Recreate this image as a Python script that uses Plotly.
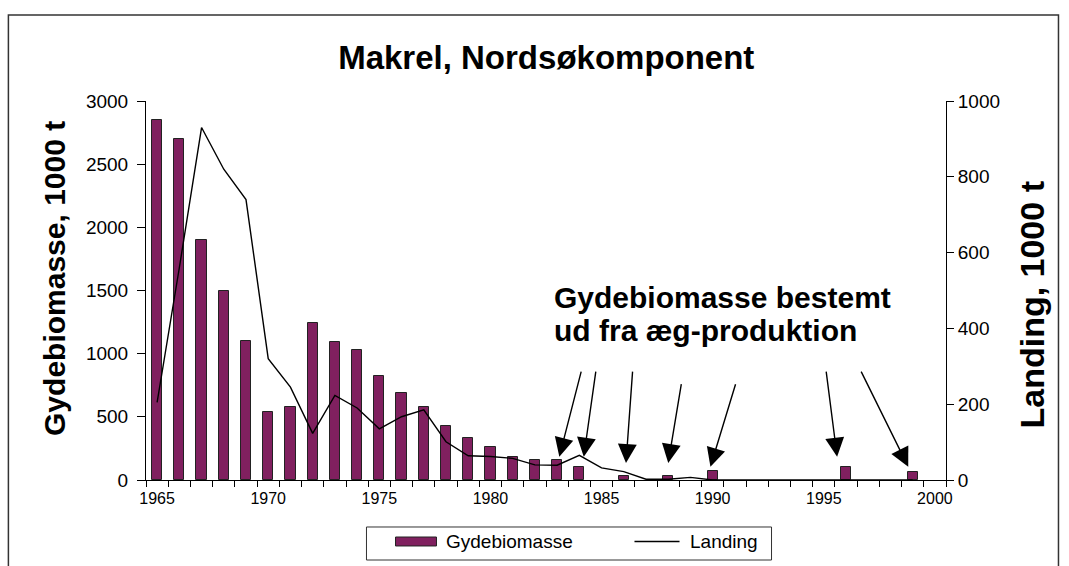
import plotly.graph_objects as go

# ---- data ----
bar_years = [1965, 1966, 1967, 1968, 1969, 1970, 1971, 1972, 1973, 1974, 1975,
             1976, 1977, 1978, 1979, 1980, 1981, 1982, 1983, 1984, 1986, 1988,
             1990, 1996, 1999]
gydebiomasse = [2850, 2700, 1900, 1500, 1100, 540, 580, 1240, 1090, 1030, 820,
                690, 580, 430, 330, 260, 180, 160, 160, 100, 30, 30,
                70, 100, 60]

line_years = list(range(1965, 2000))
landing = [205, 560, 930, 820, 740, 320, 245, 123, 223, 190, 135,
           167, 185, 101, 64, 62, 57, 40, 39, 65, 32, 22, 2, 2, 7,
           0, 0, 0, 0, 0, 0, 0, 0, 0, 0]

x_ticks = [1965, 1970, 1975, 1980, 1985, 1990, 1995, 2000]
y_left_ticks = [0, 500, 1000, 1500, 2000, 2500, 3000]
y_right_ticks = [0, 200, 400, 600, 800, 1000]

series_names = ["Gydebiomasse", "Landing"]

# arrows: (tip_x, tip_y, tail_x, tail_y) in data units of the left axis
arrow_tip_x = [1983.1, 1984.2, 1986.1, 1988.0, 1989.9, 1995.6, 1998.8]
arrow_tip_y = [185, 185, 135, 135, 105, 185, 105]
arrow_tail_x = [1984.1, 1984.75, 1986.4, 1988.6, 1991.05, 1995.1, 1996.65]
arrow_tail_y = [870, 870, 870, 770, 770, 870, 870]

FONT = "Liberation Sans, Arial, sans-serif"
BAR_COLOR = "#80205F"

fig = go.Figure()
fig.add_trace(go.Bar(
    x=bar_years, y=gydebiomasse, name=series_names[0],
    marker=dict(color=BAR_COLOR, line=dict(color="#222222", width=1)),
    width=0.46, yaxis="y", showlegend=False))
fig.add_trace(go.Scatter(
    x=line_years, y=landing, name=series_names[1], mode="lines",
    line=dict(color="black", width=1.4), yaxis="y2", showlegend=False))

annotations = []
for tx, ty, ax, ay in zip(arrow_tip_x, arrow_tip_y, arrow_tail_x, arrow_tail_y):
    annotations.append(dict(
        x=tx, y=ty, ax=ax, ay=ay, xref="x", yref="y", axref="x", ayref="y",
        text="", showarrow=True, arrowhead=2, arrowsize=2.7, arrowwidth=1.4,
        arrowcolor="black"))

annotations.append(dict(
    text="<b>Gydebiomasse bestemt</b>", x=0.508, y=0.481, xref="paper",
    yref="paper", xanchor="left", yanchor="middle", showarrow=False,
    font=dict(family=FONT, size=30, color="black")))
annotations.append(dict(
    text="<b>ud fra æg-produktion</b>", x=0.508, y=0.394, xref="paper",
    yref="paper", xanchor="left", yanchor="middle", showarrow=False,
    font=dict(family=FONT, size=30, color="black")))

# axis titles
annotations.append(dict(
    text="<b>Gydebiomasse, 1000 t</b>", x=-0.1144, y=0.5317, xref="paper",
    yref="paper", xanchor="center", yanchor="middle", textangle=-90,
    showarrow=False, font=dict(family=FONT, size=30, color="black")))
annotations.append(dict(
    text="<b>Landing, 1000 t</b>", x=1.1069, y=0.4617, xref="paper",
    yref="paper", xanchor="center", yanchor="middle", textangle=-90,
    showarrow=False, font=dict(family=FONT, size=34, color="black")))

# custom legend (paper coordinates)
annotations.append(dict(
    text=series_names[0], x=0.3731, y=-0.1623, xref="paper", yref="paper",
    xanchor="left", yanchor="middle", showarrow=False,
    font=dict(family=FONT, size=19, color="black")))
annotations.append(dict(
    text=series_names[1], x=0.6769, y=-0.1623, xref="paper", yref="paper",
    xanchor="left", yanchor="middle", showarrow=False,
    font=dict(family=FONT, size=19, color="black")))

shapes = [
    # outer chart border
    dict(type="rect", xref="paper", yref="paper",
         x0=-0.172, x1=1.1406, y0=-0.26, y1=1.227,
         line=dict(color="#333333", width=1.5), layer="below"),
    # legend box
    dict(type="rect", xref="paper", yref="paper",
         x0=0.2756, x1=0.7819, y0=-0.2111, y1=-0.124,
         line=dict(color="#333333", width=1), fillcolor="white", layer="below"),
    # legend bar symbol
    dict(type="rect", xref="paper", yref="paper",
         x0=0.3119, x1=0.3631, y0=-0.1741, y1=-0.1504,
         line=dict(color="#222222", width=1), fillcolor=BAR_COLOR),
    # legend line symbol
    dict(type="line", xref="paper", yref="paper",
         x0=0.6106, x1=0.6669, y0=-0.1623, y1=-0.1623,
         line=dict(color="black", width=1.4)),
]

fig.update_layout(
    width=1069, height=566,
    margin=dict(l=146, r=123, t=101, b=86),
    paper_bgcolor="white", plot_bgcolor="white",
    font=dict(family=FONT, color="black"),
    showlegend=False,
    title=dict(text="<b>Makrel, Nordsøkomponent</b>", x=0.511, xanchor="center",
               y=0.899, yanchor="middle", font=dict(family=FONT, size=33)),
    bargap=0,
    xaxis=dict(range=[1964.5, 2000.5], tickvals=x_ticks, ticks="",
               showline=True, linecolor="black", linewidth=1,
               showgrid=False, zeroline=False,
               tickfont=dict(size=16), ticklabelstandoff=4,
               minor=dict(tick0=1964.5, dtick=1, ticks="outside",
                          ticklen=6, tickcolor="black", showgrid=False)),
    yaxis=dict(range=[0, 3000], tickvals=y_left_ticks, ticks="outside",
               ticklen=8, tickcolor="black", showline=True, linecolor="black",
               showgrid=False, zeroline=False, tickfont=dict(size=19),
               ticklabelstandoff=5),
    yaxis2=dict(range=[0, 1000], tickvals=y_right_ticks, overlaying="y",
                side="right", ticks="outside", ticklen=7, tickcolor="black",
                showline=True, linecolor="black", showgrid=False,
                zeroline=False, tickfont=dict(size=19), ticklabelstandoff=0),
    annotations=annotations,
    shapes=shapes,
)

fig.write_html("out.html",
               config={"displayModeBar": False},
               post_script="document.body.style.margin='0';"
                           "document.body.style.overflow='hidden';")
